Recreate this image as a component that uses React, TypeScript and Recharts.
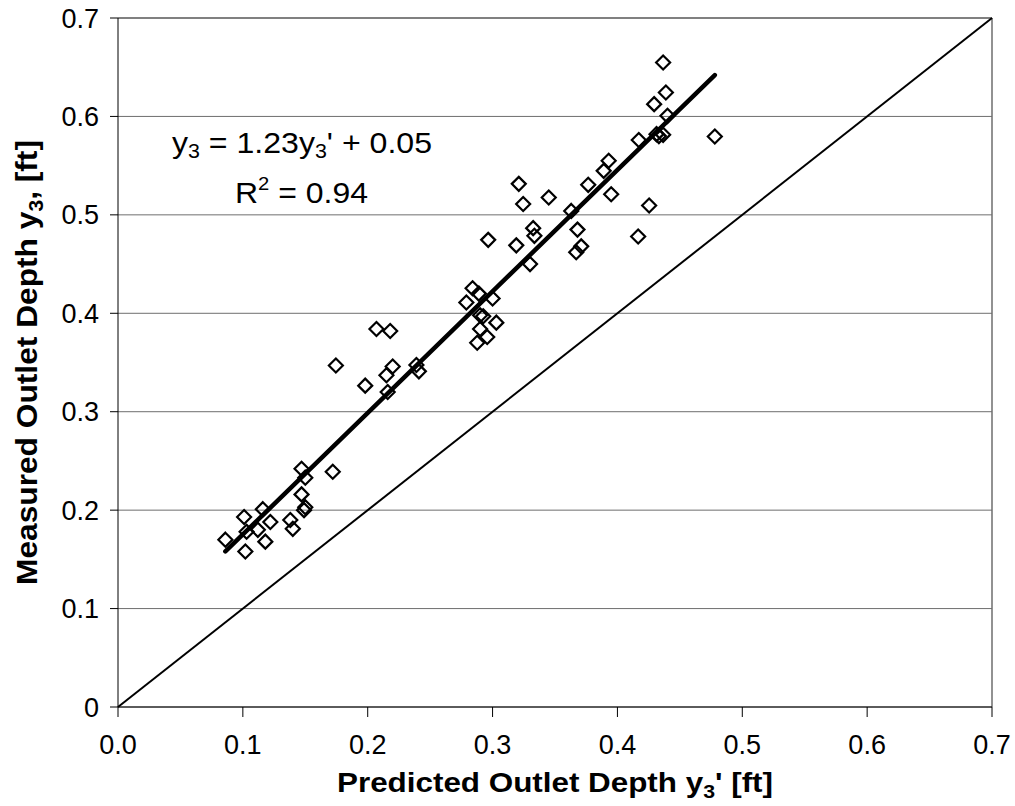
import { ScatterChart, Scatter, XAxis, YAxis, CartesianGrid, ReferenceLine } from 'recharts';

const FONT = '"Liberation Sans", Arial, sans-serif';

// predicted outlet depth y3' [ft]
const predicted = [
    0.086, 0.101, 0.102, 0.103, 0.112, 0.116, 0.118, 0.122, 0.138, 0.140,
    0.147, 0.150, 0.147, 0.150, 0.149, 0.172,
    0.1745, 0.198, 0.207, 0.218, 0.215, 0.220, 0.216, 0.239, 0.241,
    0.279, 0.284, 0.289, 0.300, 0.290, 0.2925, 0.303, 0.290, 0.2957, 0.2877,
    0.2965, 0.319, 0.330, 0.321, 0.3245, 0.345, 0.3325, 0.3335,
    0.363, 0.368, 0.371, 0.367, 0.3766, 0.389, 0.393, 0.395, 0.4166, 0.4254,
    0.4171, 0.4313, 0.4366, 0.4332, 0.4401, 0.4294, 0.4388, 0.4366, 0.478
];

// measured outlet depth y3 [ft]
const measured = [
    0.170, 0.193, 0.158, 0.178, 0.180, 0.201, 0.168, 0.188, 0.190, 0.181,
    0.242, 0.233, 0.216, 0.203, 0.200, 0.239,
    0.347, 0.3265, 0.384, 0.382, 0.337, 0.346, 0.320, 0.3475, 0.341,
    0.411, 0.4255, 0.420, 0.415, 0.398, 0.397, 0.3905, 0.384, 0.376, 0.370,
    0.4746, 0.469, 0.450, 0.5315, 0.511, 0.5176, 0.4865, 0.4787,
    0.504, 0.485, 0.468, 0.462, 0.5305, 0.5447, 0.555, 0.521, 0.478, 0.5095,
    0.576, 0.582, 0.5813, 0.580, 0.6006, 0.6125, 0.6243, 0.6548, 0.5796
];

const points = predicted.map((x, i) => ({ x, y: measured[i] }));

// trendline y3 = 1.23y3' + 0.05, ends
const fitLine = [{ x: 0.086, y: 0.158 }, { x: 0.478, y: 0.642 }];
// line of equality
const equalLine = [{ x: 0, y: 0 }, { x: 0.7, y: 0.7 }];

const xTicks = [0, 0.1, 0.2, 0.3, 0.4, 0.5, 0.6, 0.7];
const yTicks = [0, 0.1, 0.2, 0.3, 0.4, 0.5, 0.6, 0.7];

const Diamond = ({ cx, cy }: any) => (
    <path
        d={`M${cx},${cy - 7}L${cx + 7},${cy}L${cx},${cy + 7}L${cx - 7},${cy}Z`}
        fill="none" stroke="#000" strokeWidth={2.2}
    />
);

const XTick = ({ x, y, payload }: any) => (
    <text x={x} y={y} dy="0.71em" textAnchor="middle" fontSize={27} fontFamily={FONT} fill="#000">
        {payload.value.toFixed(1)}
    </text>
);

const YTick = ({ x, y, payload }: any) => (
    <text x={x} y={y} dy="0.355em" textAnchor="end" fontSize={27} fontFamily={FONT} fill="#000">
        {payload.value === 0 ? '0' : payload.value.toFixed(1)}
    </text>
);

const XTitle = ({ viewBox }: any) => {
    const vb = viewBox || { x: 118, y: 707, width: 874, height: 99 };
    return (
        <text x={vb.x + vb.width / 2} y={vb.y + 85} textAnchor="middle" fontSize={28}
            fontWeight="bold" fontFamily={FONT} fill="#000" textLength={436} lengthAdjust="spacingAndGlyphs">
            Predicted Outlet Depth y<tspan fontSize={19} dy={6}>3</tspan><tspan dy={-6}>' [ft]</tspan>
        </text>
    );
};

const YTitle = ({ viewBox }: any) => {
    const vb = viewBox || { x: 0, y: 18, width: 118, height: 689 };
    const cx = vb.x + 37;
    const cy = vb.y + vb.height / 2;
    return (
        <g>
            <text x={cx} y={cy} transform={`rotate(-90, ${cx}, ${cy})`} textAnchor="middle" fontSize={30}
                fontWeight="bold" fontFamily={FONT} fill="#000" textLength={445} lengthAdjust="spacingAndGlyphs">
                Measured Outlet Depth y<tspan fontSize={20} dy={6}>3</tspan><tspan dy={-6}>, [ft]</tspan>
            </text>
            {/* regression annotation */}
            <text x={vb.x + vb.width + 54} y={vb.y + 135} fontSize={30} fontFamily={FONT} fill="#000"
                textLength={260} lengthAdjust="spacingAndGlyphs">
                y<tspan fontSize={20} dy={5}>3</tspan><tspan dy={-5}> = 1.23y</tspan>
                <tspan fontSize={20} dy={5}>3</tspan><tspan dy={-5}>' + 0.05</tspan>
            </text>
            <text x={vb.x + vb.width + 117} y={vb.y + 185} fontSize={30} fontFamily={FONT} fill="#000"
                textLength={133} lengthAdjust="spacingAndGlyphs">
                R<tspan fontSize={19} dy={-13}>2</tspan><tspan dy={13}> = 0.94</tspan>
            </text>
        </g>
    );
};

export default function App() {
    return (
        <div style={{ position: 'absolute', left: 0, top: 0, background: '#fff' }}>
            <ScatterChart width={1015} height={806} margin={{ top: 18, right: 23, left: 0, bottom: 0 }}>
                <CartesianGrid vertical={false} stroke="#6e6e6e" />
                <XAxis type="number" dataKey="x" domain={[0, 0.7]} ticks={xTicks} height={99}
                    tick={<XTick />} tickSize={10} tickMargin={18} interval={0}
                    axisLine={{ stroke: '#000' }} tickLine={{ stroke: '#000' }} label={<XTitle />} />
                <YAxis type="number" dataKey="y" domain={[0, 0.7]} ticks={yTicks} width={118}
                    tick={<YTick />} tickSize={8} tickMargin={11} interval={0}
                    axisLine={{ stroke: '#000' }} tickLine={{ stroke: '#000' }} label={<YTitle />} />
                <ReferenceLine x={0.7} stroke="#6e6e6e" strokeWidth={1.5} />
                <ReferenceLine y={0.7} stroke="#6e6e6e" strokeWidth={1.5} />
                <ReferenceLine segment={equalLine} stroke="#000" strokeWidth={2} />
                <Scatter data={points} shape={Diamond} isAnimationActive={false} />
                <ReferenceLine segment={fitLine} stroke="#000" strokeWidth={4.5} strokeLinecap="round" />
            </ScatterChart>
        </div>
    );
}
